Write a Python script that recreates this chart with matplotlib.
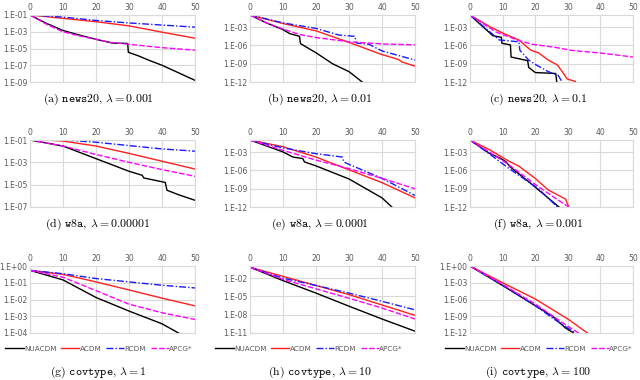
import numpy as np
import matplotlib
matplotlib.use("Agg")
import matplotlib.pyplot as plt

plt.rcParams['mathtext.fontset'] = 'cm'

# log10 of the suboptimality: (iterations, exponent)
# panel (a) news20, lambda = 0.001
a_nu_x = [0, 5, 10, 15, 20, 25, 29.6, 29.8, 33, 36, 40, 45, 50]
a_nu_y = [-1, -2.0, -2.85, -3.4, -3.9, -4.35, -4.4, -5.45, -5.9, -6.4, -7.0, -7.9, -8.8]
a_ac_x = [0, 10, 20, 30, 40, 50]
a_ac_y = [-1, -1.4, -1.8, -2.3, -3.05, -3.77]
a_rc_x = [0, 10, 20, 30, 40, 50]
a_rc_y = [-1, -1.25, -1.65, -1.95, -2.2, -2.45]
a_ap_x = [0, 5, 10, 15, 20, 24, 30, 40, 50]
a_ap_y = [-1, -2.1, -3.0, -3.5, -3.9, -4.25, -4.5, -4.9, -5.2]

# panel (b) news20, lambda = 0.01
b_nu_x = [0, 5, 10, 12, 15, 15.3, 20, 25, 30, 34]
b_nu_y = [-1, -2.3, -3.4, -4.05, -4.5, -5.7, -7.2, -9.0, -10.3, -12]
b_ac_x = [0, 10, 20, 30, 40, 45, 46, 50]
b_ac_y = [-1, -2.4, -3.6, -5.5, -7.5, -8.3, -8.7, -9.4]
b_rc_x = [0, 10, 20, 27, 31.8, 32.2, 36, 40, 50]
b_rc_y = [-1, -2.3, -3.2, -4.3, -4.5, -5.6, -5.8, -6.9, -8.4]
b_ap_x = [0, 5, 10, 15, 20, 30, 40, 50]
b_ap_y = [-1, -2.3, -3.3, -4.2, -4.7, -5.4, -5.75, -5.9]

# panel (c) news20, lambda = 0.1
c_nu_x = [0, 7, 9.6, 9.8, 12.4, 12.6, 17.7, 18.0, 20, 26.3, 26.6]
c_nu_y = [-1, -4.4, -4.66, -5.65, -5.9, -7.9, -8.5, -9.6, -10.45, -10.6, -12]
c_ac_x = [0, 6, 11, 15, 18.7, 21, 24, 26.8, 28.3, 29.8, 32.3]
c_ac_y = [-1, -2.9, -4.2, -5.1, -6.8, -7.2, -8.4, -9.2, -10.3, -11.5, -11.9]
c_rc_x = [0, 9, 15, 15.3, 18, 20, 24, 27, 28.3]
c_rc_y = [-1, -5.1, -5.4, -6.8, -8.4, -9.1, -10.3, -10.9, -12]
c_ap_x = [0, 8, 15, 19, 26, 31, 41, 50]
c_ap_y = [-1, -3.8, -5.2, -5.8, -6.3, -6.8, -7.3, -7.9]

# panel (d) w8a, lambda = 0.00001
d_nu_x = [0, 10, 20, 30, 34, 34.5, 41, 41.5, 45, 50]
d_nu_y = [-1, -1.54, -2.67, -3.8, -4.16, -4.4, -4.8, -5.5, -5.9, -6.4]
d_ac_x = [0, 5, 10, 20, 30, 40, 50]
d_ac_y = [-1, -1.0, -1.1, -1.54, -2.2, -2.9, -3.6]
d_rc_x = [0, 10, 20, 30, 40, 50]
d_rc_y = [-1, -1.0, -1.2, -1.5, -1.8, -2.0]
d_ap_x = [0, 10, 20, 30, 40, 50]
d_ap_y = [-1, -1.54, -2.3, -3.0, -3.65, -4.25]

# panel (e) w8a, lambda = 0.0001
e_nu_x = [0, 10, 13, 16, 16.5, 20, 30, 40, 43]
e_nu_y = [-1, -2.96, -3.8, -4.05, -4.6, -5.25, -7.4, -10.5, -12]
e_ac_x = [0, 10, 20, 30, 40, 50]
e_ac_y = [-1, -2.1, -3.8, -5.9, -8.0, -10.5]
e_rc_x = [0, 10, 20, 28, 28.4, 30, 40, 50]
e_rc_y = [-1, -2.3, -3.25, -3.8, -4.6, -5.0, -7.3, -10.1]
e_ap_x = [0, 10, 20, 30, 40, 50]
e_ap_y = [-1, -2.7, -4.3, -5.7, -7.3, -9.0]

# panel (f) w8a, lambda = 0.001
f_nu_x = [0, 6, 9, 11, 12.3, 18, 27.3]
f_nu_y = [-1, -3.2, -3.9, -4.55, -5.4, -7.85, -12]
f_ac_x = [0, 6, 12, 15, 20, 24, 29.3, 30.3]
f_ac_y = [-1, -2.6, -4.5, -5.3, -7.3, -9.2, -10.7, -12]
f_rc_x = [0, 6, 12, 21, 26.8]
f_rc_y = [-1, -3.3, -5.7, -9.0, -12]
f_ap_x = [0, 6, 12, 20, 26.3, 30.3]
f_ap_y = [-1, -3.0, -5.1, -8.3, -10.6, -12]

# panel (g) covtype, lambda = 1
g_nu_x = [0, 10, 20, 30, 40, 45]
g_nu_y = [-0.26, -0.83, -1.88, -2.69, -3.45, -4.0]
g_ac_x = [0, 10, 20, 30, 40, 50]
g_ac_y = [-0.26, -0.5, -0.95, -1.43, -1.92, -2.38]
g_rc_x = [0, 10, 20, 30, 40, 50]
g_rc_y = [-0.26, -0.46, -0.75, -0.95, -1.15, -1.31]
g_ap_x = [0, 10, 20, 30, 40, 50]
g_ap_y = [-0.26, -0.67, -1.47, -2.28, -2.79, -3.19]

# panel (h) covtype, lambda = 10
h_nu_x = [0, 10, 20, 30, 40, 50]
h_nu_y = [-0.2, -2.4, -4.45, -6.6, -8.7, -10.7]
h_ac_x = [0, 10, 20, 30, 40, 50]
h_ac_y = [-0.2, -1.7, -3.2, -4.7, -6.4, -8.1]
h_rc_x = [0, 10, 20, 30, 40, 50]
h_rc_y = [-0.2, -2.0, -3.2, -4.45, -5.8, -7.2]
h_ap_x = [0, 10, 20, 30, 40, 50]
h_ap_y = [-0.2, -2.2, -3.75, -5.3, -6.9, -8.7]

# panel (i) covtype, lambda = 100
i_nu_x = [0, 10, 20, 25.3, 29.3, 31.8]
i_nu_y = [0, -3.5, -7.1, -9.0, -11.1, -12]
i_ac_x = [0, 10, 20, 30.3, 36]
i_ac_y = [0, -3.0, -5.9, -9.6, -12]
i_rc_x = [0, 10, 20, 26, 32.3]
i_rc_y = [0, -3.4, -7.1, -9.6, -12]
i_ap_x = [0, 10, 20, 30, 33.3]
i_ap_y = [0, -3.3, -6.8, -10.8, -12]

panels = [
    (a_nu_x, a_nu_y, a_ac_x, a_ac_y, a_rc_x, a_rc_y, a_ap_x, a_ap_y),
    (b_nu_x, b_nu_y, b_ac_x, b_ac_y, b_rc_x, b_rc_y, b_ap_x, b_ap_y),
    (c_nu_x, c_nu_y, c_ac_x, c_ac_y, c_rc_x, c_rc_y, c_ap_x, c_ap_y),
    (d_nu_x, d_nu_y, d_ac_x, d_ac_y, d_rc_x, d_rc_y, d_ap_x, d_ap_y),
    (e_nu_x, e_nu_y, e_ac_x, e_ac_y, e_rc_x, e_rc_y, e_ap_x, e_ap_y),
    (f_nu_x, f_nu_y, f_ac_x, f_ac_y, f_rc_x, f_rc_y, f_ap_x, f_ap_y),
    (g_nu_x, g_nu_y, g_ac_x, g_ac_y, g_rc_x, g_rc_y, g_ap_x, g_ap_y),
    (h_nu_x, h_nu_y, h_ac_x, h_ac_y, h_rc_x, h_rc_y, h_ap_x, h_ap_y),
    (i_nu_x, i_nu_y, i_ac_x, i_ac_y, i_rc_x, i_rc_y, i_ap_x, i_ap_y),
]

# y range (exponents) and ticks per panel
ylims = [(-9, -1), (-12, -1), (-12, -1), (-7, -1), (-12, -1), (-12, -1),
         (-4, 0), (-11, 0), (-12, 0)]
yticks = [[-1, -3, -5, -7, -9], [-3, -6, -9, -12], [-3, -6, -9, -12],
          [-1, -3, -5, -7], [-3, -6, -9, -12], [-3, -6, -9, -12],
          [0, -1, -2, -3, -4], [-2, -5, -8, -11], [0, -3, -6, -9, -12]]
captions = [("a", "news20", "0.001"), ("b", "news20", "0.01"), ("c", "news20", "0.1"),
            ("d", "w8a", "0.00001"), ("e", "w8a", "0.0001"), ("f", "w8a", "0.001"),
            ("g", "covtype", "1"), ("h", "covtype", "10"), ("i", "covtype", "100")]
names = ["NUACDM", "ACDM", "RCDM", "APCG*"]
colors = ["black", "#ff2020", "#1a1aff", "#ff00ff"]
dashes = [None, None, (5, 1.5, 1, 1.5), (4, 1.5)]

fig = plt.figure(figsize=(6.4, 3.8), dpi=100)
W, H = 640.0, 380.0
col_left = [30, 250, 470]
col_w = [165, 165, 163]
row_top = [15, 140, 266]
row_h = 67
cap_x = [98, 320, 538]
cap_y = [99, 224, 372]
leg_dx = [-26, -36, -26]

for k, p in enumerate(panels):
    r, c = divmod(k, 3)
    ax = fig.add_axes([col_left[c] / W, 1 - (row_top[r] + row_h) / H,
                       col_w[c] / W, row_h / H])
    for j in range(4):
        x = p[2 * j]
        y = 10.0 ** np.array(p[2 * j + 1])
        ln, = ax.plot(x, y, color=colors[j], lw=1.0, label=names[j])
        if dashes[j] is not None:
            ln.set_dashes(dashes[j])
    ax.set_yscale("log")
    ax.set_xlim(0, 50)
    ax.set_ylim(10.0 ** ylims[k][0], 10.0 ** ylims[k][1])
    ax.set_xticks([0, 10, 20, 30, 40, 50])
    ax.set_yticks([10.0 ** t for t in yticks[k]])
    ax.set_yticklabels(["1.E%+03d" % t for t in yticks[k]])
    ax.yaxis.set_minor_locator(matplotlib.ticker.NullLocator())
    ax.xaxis.tick_top()
    ax.tick_params(length=0, labelsize=5.5, labelcolor="#595959", pad=2)
    ax.grid(True, color="#d9d9d9", lw=0.8)
    ax.set_axisbelow(True)
    for s in ax.spines.values():
        s.set_color("#d9d9d9")
        s.set_linewidth(0.8)
    let, ds, lam = captions[k]
    fig.text(cap_x[c] / W, 1 - cap_y[r] / H,
             r"(%s) $\mathtt{%s}$, $\lambda = %s$" % (let, ds, lam),
             ha="center", va="center", fontsize=8.5, fontfamily="cmr10")
    if r == 2:
        ax.legend(loc="upper left", bbox_to_anchor=(leg_dx[c] / col_w[c], -0.17),
                  ncol=4, frameon=False, fontsize=5.2, handlelength=2.5,
                  handletextpad=0.1, columnspacing=0.6, borderaxespad=0,
                  borderpad=0.2, labelcolor="#595959")

fig.savefig("out.png", dpi=100)
